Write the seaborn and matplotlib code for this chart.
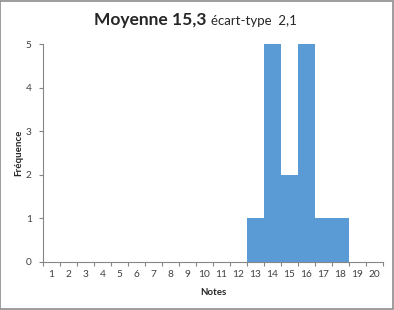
import numpy as np
import pandas as pd
import matplotlib
matplotlib.use('Agg')
import matplotlib.pyplot as plt
import seaborn as sns
from matplotlib.patches import Rectangle

sns.set_style('white')
plt.rcParams['font.family'] = ['Lato', 'DejaVu Sans']

# données
notes = list(range(1, 21))
frequences = [0, 0, 0, 0, 0, 0, 0, 0, 0, 0, 0, 0, 1, 5, 2, 5, 1, 1, 0, 0]
moyenne = '15,3'
ecart_type = '2,1'

df = pd.DataFrame({'Notes': notes, 'Fréquence': frequences})

fig = plt.figure(figsize=(3.94, 3.10), dpi=100)
ax = fig.add_axes([0.109, 0.155, 0.863, 0.703])

sns.barplot(data=df, x='Notes', y='Fréquence', color='#5B9BD5', width=1.0,
            saturation=1, edgecolor='none', linewidth=0, ax=ax)

ax.set_xlim(-0.5, len(notes) - 0.5)
ax.set_ylim(0, 5)
ax.set_yticks(range(0, 6))

# ticks between categories like excel
ax.set_xticks(np.arange(-0.5, len(notes), 1.0), minor=True)
ax.tick_params(axis='x', which='major', length=0, labelsize=7.3, colors='#404040', pad=6)
ax.tick_params(axis='x', which='minor', length=3, width=0.8, color='#868686', direction='out', bottom=True)
ax.tick_params(axis='y', which='major', length=3, width=0.8, color='#868686', direction='out',
               labelsize=7.3, labelcolor='#404040', left=True, pad=5)

for s in ['top', 'right']:
    ax.spines[s].set_visible(False)
for s in ['left', 'bottom']:
    ax.spines[s].set_color('#868686')
    ax.spines[s].set_linewidth(0.8)

ax.set_xlabel('Notes', fontsize=7, fontweight='bold', labelpad=6)
ax.set_ylabel('Fréquence', fontsize=7, fontweight='bold', labelpad=2)

# titre en deux morceaux
t1 = fig.text(0.523, 0.935, 'Moyenne ' + moyenne, fontsize=12.5, fontweight='bold',
              ha='right', va='center')
t2 = fig.text(0.536, 0.933, 'écart-type  ' + ecart_type, fontsize=9.5,
              ha='left', va='center')

fig.patches.append(Rectangle((0.001, 0.002), 0.997, 0.996, transform=fig.transFigure,
                             fill=False, edgecolor='#8c8c8c', linewidth=1.2))

plt.savefig('out.png', dpi=100)
